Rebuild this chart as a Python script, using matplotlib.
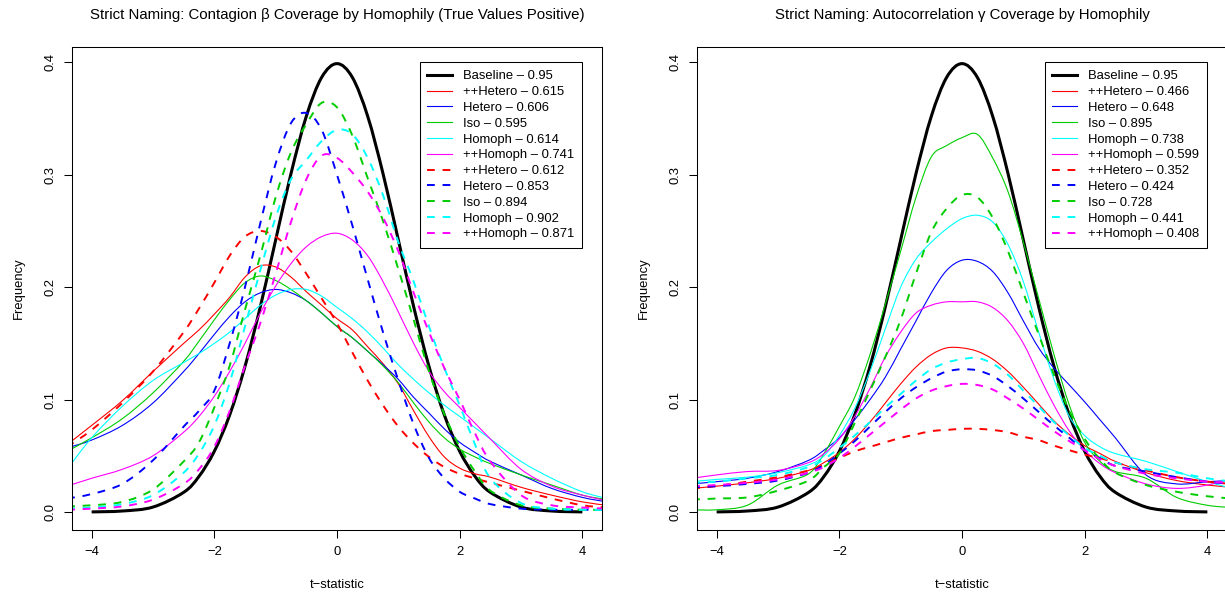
import numpy as np
import matplotlib
matplotlib.use("Agg")
import matplotlib.pyplot as plt
from matplotlib.path import Path
from matplotlib.patches import PathPatch
from matplotlib.lines import Line2D

plt.rcParams['font.family'] = ['Liberation Sans', 'DejaVu Sans']

# shared grid of t values the density curves were read at
t_grid = [-4.4, -4.0, -3.5, -3.0, -2.5, -2.25, -2.0, -1.75, -1.5, -1.25, -1.0, -0.75, -0.5, -0.25, 0.0,
          0.25, 0.5, 0.75, 1.0, 1.25, 1.5, 1.75, 2.0, 2.25, 2.5, 3.0, 3.5, 4.0, 4.4]

nan = np.nan
baseline = [nan, 0.0001, 0.0009, 0.0044, 0.0175, 0.0317, 0.0540, 0.0863, 0.1295, 0.1826, 0.2420, 0.3011, 0.3521, 0.3867, 0.3989,
            0.3867, 0.3521, 0.3011, 0.2420, 0.1826, 0.1295, 0.0863, 0.0540, 0.0317, 0.0175, 0.0044, 0.0009, 0.0001, nan]

# --- left panel: contagion beta ---
beta_solid = {
    '++Hetero': [0.060, 0.077, 0.099, 0.125, 0.150, 0.162, 0.176, 0.191, 0.209, 0.219, 0.218, 0.209, 0.196, 0.184, 0.172,
                 0.162, 0.147, 0.132, 0.114, 0.090, 0.067, 0.049, 0.039, 0.034, 0.031, 0.022, 0.015, 0.009, 0.006],
    'Hetero': [0.057, 0.064, 0.077, 0.097, 0.125, 0.141, 0.158, 0.174, 0.187, 0.195, 0.198, 0.195, 0.188, 0.177, 0.165,
               0.155, 0.143, 0.131, 0.118, 0.102, 0.088, 0.074, 0.062, 0.053, 0.045, 0.033, 0.021, 0.013, 0.009],
    'Iso': [0.054, 0.066, 0.083, 0.106, 0.134, 0.152, 0.171, 0.189, 0.204, 0.210, 0.206, 0.198, 0.188, 0.177, 0.165,
            0.155, 0.143, 0.130, 0.115, 0.097, 0.080, 0.066, 0.056, 0.049, 0.043, 0.033, 0.024, 0.015, 0.011],
    'Homoph': [0.038, 0.066, 0.094, 0.117, 0.133, 0.141, 0.150, 0.160, 0.172, 0.184, 0.193, 0.198, 0.198, 0.192, 0.182,
               0.172, 0.160, 0.146, 0.131, 0.118, 0.106, 0.095, 0.085, 0.075, 0.065, 0.045, 0.030, 0.018, 0.012],
    '++Homoph': [0.023, 0.030, 0.038, 0.050, 0.071, 0.085, 0.103, 0.125, 0.150, 0.177, 0.201, 0.221, 0.236, 0.245, 0.248,
                 0.242, 0.228, 0.205, 0.178, 0.150, 0.125, 0.107, 0.093, 0.079, 0.065, 0.038, 0.023, 0.015, 0.010],
}
beta_dashed = {
    '++Hetero': [0.058, 0.073, 0.097, 0.125, 0.160, 0.181, 0.204, 0.228, 0.245, 0.250, 0.245, 0.232, 0.212, 0.190, 0.168,
                 0.142, 0.117, 0.095, 0.076, 0.061, 0.049, 0.040, 0.034, 0.030, 0.026, 0.019, 0.012, 0.006, 0.004],
    'Hetero': [0.012, 0.016, 0.025, 0.046, 0.076, 0.090, 0.108, 0.150, 0.200, 0.257, 0.310, 0.346, 0.355, 0.340, 0.300,
               0.255, 0.207, 0.160, 0.117, 0.078, 0.048, 0.030, 0.018, 0.012, 0.007, 0.003, 0.002, 0.002, 0.002],
    'Iso': [0.005, 0.006, 0.009, 0.020, 0.045, 0.062, 0.093, 0.130, 0.180, 0.228, 0.280, 0.320, 0.345, 0.364, 0.360,
            0.335, 0.297, 0.259, 0.216, 0.171, 0.125, 0.087, 0.058, 0.036, 0.019, 0.006, 0.003, 0.002, 0.002],
    'Homoph': [0.003, 0.004, 0.007, 0.015, 0.035, 0.052, 0.077, 0.115, 0.165, 0.215, 0.262, 0.296, 0.313, 0.330, 0.340,
               0.336, 0.315, 0.282, 0.240, 0.205, 0.165, 0.128, 0.095, 0.060, 0.030, 0.008, 0.003, 0.002, 0.002],
    '++Homoph': [0.002, 0.003, 0.005, 0.011, 0.025, 0.038, 0.058, 0.090, 0.130, 0.168, 0.212, 0.258, 0.296, 0.317, 0.315,
                 0.302, 0.285, 0.262, 0.232, 0.195, 0.160, 0.128, 0.100, 0.070, 0.045, 0.015, 0.006, 0.004, 0.003],
}
beta_solid_cov = [0.615, 0.606, 0.595, 0.614, 0.741]
beta_dashed_cov = [0.612, 0.853, 0.894, 0.902, 0.871]

# --- right panel: autocorrelation gamma ---
gamma_solid = {
    '++Hetero': [0.021, 0.023, 0.026, 0.030, 0.037, 0.044, 0.053, 0.065, 0.080, 0.097, 0.114, 0.129, 0.140, 0.146, 0.146,
                 0.143, 0.136, 0.125, 0.111, 0.096, 0.081, 0.069, 0.059, 0.052, 0.045, 0.035, 0.028, 0.024, 0.022],
    'Hetero': [0.025, 0.027, 0.030, 0.036, 0.046, 0.055, 0.066, 0.082, 0.100, 0.120, 0.145, 0.170, 0.195, 0.215, 0.224,
               0.223, 0.214, 0.195, 0.170, 0.146, 0.128, 0.113, 0.098, 0.082, 0.066, 0.033, 0.025, 0.027, 0.028],
    'Iso': [0.002, 0.002, 0.006, 0.024, 0.034, 0.052, 0.076, 0.102, 0.140, 0.185, 0.232, 0.280, 0.316, 0.326, 0.333,
            0.336, 0.315, 0.285, 0.240, 0.190, 0.140, 0.095, 0.062, 0.045, 0.036, 0.030, 0.013, 0.006, 0.004],
    'Homoph': [0.027, 0.029, 0.031, 0.035, 0.042, 0.050, 0.068, 0.092, 0.125, 0.163, 0.200, 0.225, 0.240, 0.252, 0.261,
               0.264, 0.258, 0.238, 0.205, 0.160, 0.118, 0.085, 0.068, 0.058, 0.052, 0.045, 0.036, 0.027, 0.021],
    '++Homoph': [0.030, 0.033, 0.036, 0.037, 0.044, 0.052, 0.065, 0.085, 0.110, 0.138, 0.160, 0.177, 0.184, 0.187, 0.187,
                 0.187, 0.182, 0.170, 0.150, 0.122, 0.095, 0.072, 0.055, 0.043, 0.035, 0.025, 0.021, 0.024, 0.030],
}
gamma_dashed = {
    '++Hetero': [0.021, 0.023, 0.027, 0.031, 0.037, 0.042, 0.048, 0.054, 0.058, 0.062, 0.066, 0.069, 0.072, 0.073, 0.074,
                 0.074, 0.073, 0.071, 0.067, 0.064, 0.059, 0.055, 0.051, 0.048, 0.044, 0.037, 0.031, 0.027, 0.025],
    'Hetero': [0.022, 0.023, 0.025, 0.028, 0.035, 0.042, 0.052, 0.063, 0.076, 0.089, 0.101, 0.111, 0.119, 0.125, 0.127,
               0.126, 0.121, 0.112, 0.101, 0.089, 0.077, 0.066, 0.055, 0.048, 0.041, 0.036, 0.031, 0.027, 0.025],
    'Iso': [0.011, 0.012, 0.013, 0.019, 0.028, 0.040, 0.052, 0.079, 0.108, 0.138, 0.171, 0.212, 0.249, 0.270, 0.282,
            0.280, 0.262, 0.232, 0.195, 0.158, 0.122, 0.090, 0.065, 0.047, 0.035, 0.024, 0.018, 0.014, 0.012],
    'Homoph': [0.026, 0.027, 0.030, 0.033, 0.040, 0.047, 0.057, 0.068, 0.080, 0.093, 0.105, 0.117, 0.127, 0.133, 0.136,
               0.137, 0.132, 0.122, 0.108, 0.094, 0.080, 0.068, 0.057, 0.050, 0.044, 0.038, 0.035, 0.030, 0.027],
    '++Homoph': [0.023, 0.024, 0.026, 0.029, 0.035, 0.040, 0.048, 0.058, 0.069, 0.080, 0.091, 0.101, 0.108, 0.112, 0.114,
                 0.113, 0.109, 0.101, 0.092, 0.082, 0.072, 0.063, 0.055, 0.047, 0.041, 0.034, 0.030, 0.027, 0.026],
}
gamma_solid_cov = [0.466, 0.648, 0.895, 0.738, 0.599]
gamma_dashed_cov = [0.352, 0.424, 0.728, 0.441, 0.408]

baseline_cov = 0.95
group_colors = ['#FF0000', '#0000FF', '#00CD00', '#00FFFF', '#FF00FF']

W, H = 1225, 595
fig = plt.figure(figsize=(W / 100, H / 100), dpi=100)


def px_box(l, t, r, b):
    return [l / W, 1 - b / H, (r - l) / W, (b - t) / H]


def smooth_curve(ax, xs, ys, **style):
    # draw a smooth bezier line through the read points (passes through each one)
    P = np.array([(x, y) for x, y in zip(xs, ys) if np.isfinite(y)])
    verts = [P[0]]
    codes = [Path.MOVETO]
    n = len(P)
    for i in range(n - 1):
        p0 = P[i - 1] if i > 0 else P[i]
        p1, p2 = P[i], P[i + 1]
        p3 = P[i + 2] if i + 2 < n else P[i + 1]
        verts += [p1 + (p2 - p0) / 6, p2 - (p3 - p1) / 6, p2]
        codes += [Path.CURVE4] * 3
    patch = PathPatch(Path(verts, codes), fill=False, **style)
    ax.add_patch(patch)
    return Line2D([], [], color=style['edgecolor'], lw=style['lw'],
                  linestyle=style.get('linestyle', '-'))


def draw_panel(ax, solid, dashed, solid_cov, dashed_cov, title, cx):
    handles = []
    labels = []
    handles.append(smooth_curve(ax, t_grid, baseline, edgecolor='black', lw=2.2, capstyle='butt'))
    labels.append(f'Baseline \u2013 {baseline_cov}')
    for (name, ys), c, cov in zip(solid.items(), group_colors, solid_cov):
        handles.append(smooth_curve(ax, t_grid, ys, edgecolor=c, lw=0.8))
        labels.append(f'{name} \u2013 {cov}')
    for (name, ys), c, cov in zip(dashed.items(), group_colors, dashed_cov):
        handles.append(smooth_curve(ax, t_grid, ys, edgecolor=c, lw=1.4, linestyle=(0, (4, 4))))
        labels.append(f'{name} \u2013 {cov}')

    ax.set_xlim(-4.32, 4.32)
    ax.set_ylim(-0.016, 0.4137)
    ax.set_xticks([-4, -2, 0, 2, 4])
    ax.set_xticklabels(['\u22124', '\u22122', '0', '2', '4'])
    ax.set_yticks([0.0, 0.1, 0.2, 0.3, 0.4])
    ax.set_yticklabels(['0.0', '0.1', '0.2', '0.3', '0.4'], rotation=90, va='center')
    ax.tick_params(direction='out', length=5.5, width=0.75, labelsize=9.4, pad=6)
    for s in ax.spines.values():
        s.set_linewidth(0.75)

    leg = ax.legend(handles, labels, loc='upper right', bbox_to_anchor=(4, 0.4),
                    bbox_transform=ax.transData, borderaxespad=0, fancybox=False,
                    edgecolor='black', framealpha=1, fontsize=9.4, handlelength=1.9,
                    handletextpad=0.85, labelspacing=0.28, borderpad=0.6)
    leg.get_frame().set_linewidth(0.75)

    fig.text(cx / W, 1 - 15 / H, title, ha='center', va='center', fontsize=10.8)
    fig.text(cx / W, 1 - 585 / H, 't\u2212statistic', ha='center', va='center', fontsize=9.4)


ax1 = fig.add_axes(px_box(72, 47, 602, 530))
draw_panel(ax1, beta_solid, beta_dashed, beta_solid_cov, beta_dashed_cov,
           'Strict Naming: Contagion \u03b2 Coverage by Homophily (True Values Positive)', 337)
fig.text(19 / W, 1 - 288 / H, 'Frequency', rotation=90, ha='center', va='center', fontsize=9.4)

ax2 = fig.add_axes(px_box(697, 47, 1227, 530))
draw_panel(ax2, gamma_solid, gamma_dashed, gamma_solid_cov, gamma_dashed_cov,
           'Strict Naming: Autocorrelation \u03b3 Coverage by Homophily', 962)
fig.text(644 / W, 1 - 288 / H, 'Frequency', rotation=90, ha='center', va='center', fontsize=9.4)

fig.savefig('out.png', dpi=100)
